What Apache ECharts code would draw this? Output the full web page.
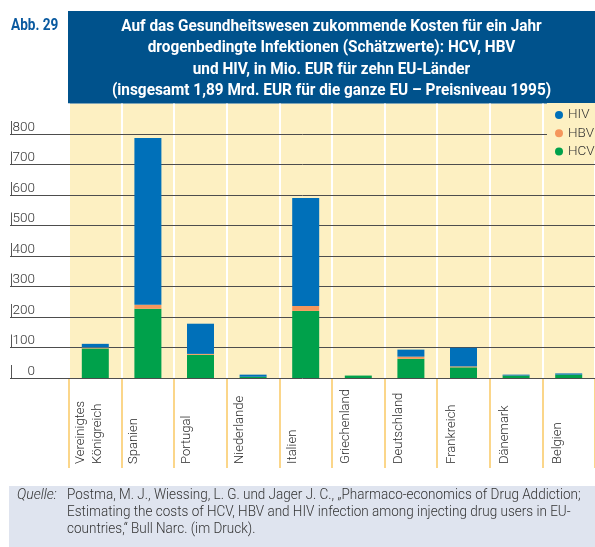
<!DOCTYPE html>
<html>
<head>
<meta charset="utf-8">
<script src="https://cdn.jsdelivr.net/npm/echarts@6/dist/echarts.min.js"></script>
<style>
  html, body { margin: 0; padding: 0; background: #fff; }
  #chart { width: 595px; height: 547px; }
</style>
</head>
<body>
<div id="chart"></div>
<script>
// data (Mio. EUR)
const countries = [
  'Vereinigtes\nKönigreich', 'Spanien', 'Portugal', 'Niederlande', 'Italien',
  'Griechenland', 'Deutschland', 'Frankreich', 'Dänemark', 'Belgien',
];
const hcv = [97, 227, 76, 4, 220, 8, 63, 35, 8, 11];
const hbv = [3, 13, 3, 0, 16, 0, 7, 3, 0, 0];
const hiv = [12, 547, 99, 7, 354, 0, 23, 61, 3, 4];
const legendNames = ['HIV', 'HBV', 'HCV'];
const yMax = 800;
const yStep = 100;

const titleLines = [
  'Auf das Gesundheitswesen zukommende Kosten für ein Jahr',
  'drogenbedingte Infektionen (Schätzwerte): HCV, HBV',
  'und HIV, in Mio. EUR für zehn EU-Länder',
  '(insgesamt 1,89 Mrd. EUR für die ganze EU – Preisniveau 1995)',
];
const sourceLines = [
  'Postma, M. J., Wiessing, L. G. und Jager J. C., „Pharmaco-economics of Drug Addiction;',
  'Estimating the costs of HCV, HBV and HIV infection among injecting drug users in EU-',
  'countries,“ Bull Narc. (im Druck).',
];

const FONT = 'Roboto, "DejaVu Sans Condensed", sans-serif';
const colors = {
  hcv: '#00a14b',
  hbv: '#f5965c',
  hiv: '#0070b9',
  panel: '#fdf0c2',
  title: '#00528c',
  source: '#dfe4ef',
  text: '#333333',
};

const chart = echarts.init(document.getElementById('chart'));

const barSeries = (name, data, color) => ({
  name: name,
  type: 'bar',
  stack: 'cost',
  data: data,
  barWidth: 27,
  xAxisIndex: 0,
  yAxisIndex: 0,
  z: 3,
  silent: true,
  itemStyle: { color: color },
});

chart.setOption({
  animation: false,
  grid: [
    // bars + yellow panel
    { left: 69, width: 530, top: 103.5, bottom: 169, show: true, backgroundColor: colors.panel, borderWidth: 0, z: 0 },
    // horizontal grid lines + value labels
    { left: 10, right: 0, top: 134, bottom: 169 },
    // country labels, shifted to sit next to the category ticks
    { left: 46, width: 530, top: 103.5, bottom: 169 },
  ],
  xAxis: [
    {
      gridIndex: 0,
      type: 'category',
      data: countries,
      z: 1,
      axisLine: { show: false },
      axisLabel: { show: false },
      axisTick: { show: true, interval: 0, length: 90, lineStyle: { color: '#fbd68a', width: 2 } },
      splitLine: { show: true, interval: 0, lineStyle: { color: '#ffffff', width: 2 } },
    },
    { gridIndex: 1, type: 'value', show: false },
    {
      gridIndex: 2,
      type: 'category',
      data: countries,
      axisLine: { show: false },
      axisTick: { show: false },
      axisLabel: {
        interval: 0,
        rotate: 90,
        align: 'left',
        verticalAlign: 'top',
        margin: 86,
        fontFamily: FONT,
        fontWeight: 300,
        fontSize: 13,
        lineHeight: 17,
        color: '#2a2a2a',
      },
    },
  ],
  yAxis: [
    { gridIndex: 0, type: 'value', min: 0, max: 900, show: false },
    {
      gridIndex: 1,
      type: 'value',
      min: 0,
      max: yMax,
      interval: yStep,
      z: 2,
      axisLine: { show: false },
      axisTick: { show: false },
      splitLine: { show: true, lineStyle: { color: '#4d4d4d', width: 1 } },
      axisLabel: {
        inside: true,
        margin: 1,
        align: 'left',
        verticalAlign: 'bottom',
        formatter: (v) => `{b| }{n|${v}}`,
        rich: {
          b: { width: 1, height: 13, backgroundColor: '#555555' },
          n: { width: 23, align: 'right', fontFamily: FONT, fontWeight: 300, fontSize: 13.5, lineHeight: 13, color: colors.text },
        },
      },
    },
    { gridIndex: 2, type: 'value', show: false },
  ],
  legend: {
    data: legendNames,
    orient: 'vertical',
    left: 547,
    top: 103,
    padding: [5, 10, 2, 8],
    backgroundColor: colors.panel,
    icon: 'circle',
    itemWidth: 8,
    itemHeight: 8,
    itemGap: 4.3,
    z: 5,
    selectedMode: false,
    textStyle: { fontFamily: FONT, fontWeight: 300, fontSize: 13.5, lineHeight: 14, color: colors.text },
  },
  series: [
    barSeries('HCV', hcv, colors.hcv),
    barSeries('HBV', hbv, colors.hbv),
    barSeries('HIV', hiv, colors.hiv),
  ],
  graphic: [
    {
      type: 'text',
      x: 11,
      y: 26,
      scaleX: 0.85,
      style: { text: 'Abb. 29', fontFamily: FONT, fontWeight: 'bold', fontSize: 16, fill: '#0a5aa0', verticalAlign: 'middle' },
    },
    {
      type: 'rect',
      shape: { x: 68, y: 11, width: 527, height: 92.5 },
      style: { fill: colors.title },
    },
    {
      type: 'text',
      x: 331.5,
      y: 59,
      scaleX: 0.96,
      style: {
        text: titleLines.join('\n'),
        fontFamily: FONT,
        fontWeight: 'bold',
        fontSize: 16,
        lineHeight: 21.3,
        fill: '#ffffff',
        align: 'center',
        verticalAlign: 'middle',
      },
    },
    {
      type: 'rect',
      shape: { x: 9, y: 486, width: 586, height: 61 },
      style: { fill: colors.source },
    },
    {
      type: 'text',
      x: 17,
      y: 487.6,
      style: { text: 'Quelle:', fontFamily: FONT, fontWeight: 300, fontStyle: 'italic', fontSize: 14, lineHeight: 16.7, fill: colors.text, verticalAlign: 'top' },
    },
    {
      type: 'text',
      x: 67,
      y: 487.6,
      scaleX: 0.965,
      style: { text: sourceLines.join('\n'), fontFamily: FONT, fontWeight: 300, fontSize: 14, lineHeight: 16.7, fill: colors.text, verticalAlign: 'top' },
    },
  ],
});
</script>
</body>
</html>
